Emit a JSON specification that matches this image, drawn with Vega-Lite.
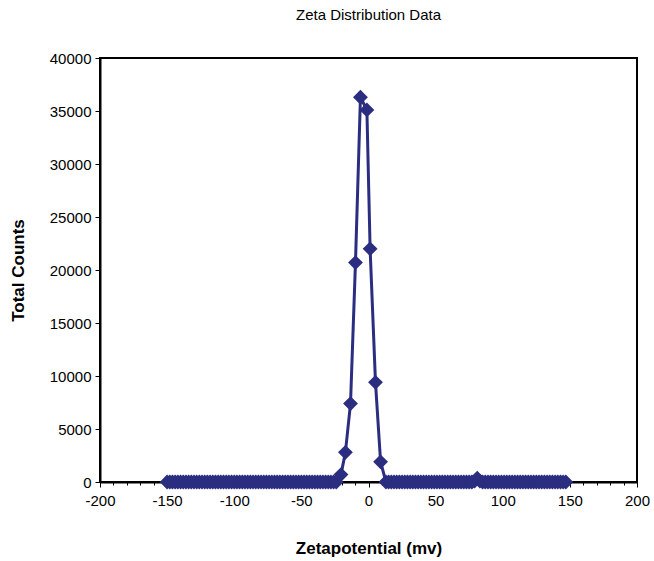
{
  "$schema": "https://vega.github.io/schema/vega-lite/v6.json",
  "autosize": {"type": "none"},
  "width": 537,
  "height": 424,
  "padding": {"left": 100, "top": 58, "right": 17, "bottom": 79},
  "background": "white",
  "title": {"text": "Zeta Distribution Data", "font": "Liberation Sans", "fontSize": 15, "fontWeight": "normal", "color": "#000000", "offset": 28, "anchor": "middle"},
  "config": {
    "view": {"stroke": "#000000", "strokeWidth": 2},
    "axis": {"grid": false, "domainColor": "#000000", "domainWidth": 2, "tickColor": "#000000", "labelFont": "Liberation Sans", "labelFontSize": 15, "labelColor": "#000000", "titleFont": "Liberation Sans", "titleFontSize": 17, "titleFontWeight": "bold", "titleColor": "#000000"}
  },
  "data": {"values": [
    {"x": -150, "y": 0}, {"x": -148, "y": 0}, {"x": -146, "y": 0}, {"x": -144, "y": 0}, {"x": -142, "y": 0}, {"x": -140, "y": 0}, {"x": -138, "y": 0}, {"x": -136, "y": 0}, {"x": -134, "y": 0}, {"x": -132, "y": 0},
    {"x": -130, "y": 0}, {"x": -128, "y": 0}, {"x": -126, "y": 0}, {"x": -124, "y": 0}, {"x": -122, "y": 0}, {"x": -120, "y": 0}, {"x": -118, "y": 0}, {"x": -116, "y": 0}, {"x": -114, "y": 0}, {"x": -112, "y": 0},
    {"x": -110, "y": 0}, {"x": -108, "y": 0}, {"x": -106, "y": 0}, {"x": -104, "y": 0}, {"x": -102, "y": 0}, {"x": -100, "y": 0}, {"x": -98, "y": 0}, {"x": -96, "y": 0}, {"x": -94, "y": 0}, {"x": -92, "y": 0},
    {"x": -90, "y": 0}, {"x": -88, "y": 0}, {"x": -86, "y": 0}, {"x": -84, "y": 0}, {"x": -82, "y": 0}, {"x": -80, "y": 0}, {"x": -78, "y": 0}, {"x": -76, "y": 0}, {"x": -74, "y": 0}, {"x": -72, "y": 0},
    {"x": -70, "y": 0}, {"x": -68, "y": 0}, {"x": -66, "y": 0}, {"x": -64, "y": 0}, {"x": -62, "y": 0}, {"x": -60, "y": 0}, {"x": -58, "y": 0}, {"x": -56, "y": 0}, {"x": -54, "y": 0}, {"x": -52, "y": 0},
    {"x": -50, "y": 0}, {"x": -48, "y": 0}, {"x": -46, "y": 0}, {"x": -44, "y": 0}, {"x": -42, "y": 0}, {"x": -40, "y": 0}, {"x": -38, "y": 0}, {"x": -36, "y": 0}, {"x": -34, "y": 0}, {"x": -32, "y": 0},
    {"x": -30, "y": 0}, {"x": -28, "y": 0}, {"x": -26, "y": 0}, {"x": -24, "y": 0},
    {"x": -20.5, "y": 700}, {"x": -17.2, "y": 2800}, {"x": -13.4, "y": 7400}, {"x": -9.7, "y": 20700}, {"x": -6, "y": 36300},
    {"x": -1.2, "y": 35100}, {"x": 1.2, "y": 22000}, {"x": 5.2, "y": 9400}, {"x": 9, "y": 1900},
    {"x": 13, "y": 0}, {"x": 15, "y": 0}, {"x": 17, "y": 0}, {"x": 19, "y": 0}, {"x": 21, "y": 0}, {"x": 23, "y": 0}, {"x": 25, "y": 0}, {"x": 27, "y": 0}, {"x": 29, "y": 0}, {"x": 31, "y": 0},
    {"x": 33, "y": 0}, {"x": 35, "y": 0}, {"x": 37, "y": 0}, {"x": 39, "y": 0}, {"x": 41, "y": 0}, {"x": 43, "y": 0}, {"x": 45, "y": 0}, {"x": 47, "y": 0}, {"x": 49, "y": 0}, {"x": 51, "y": 0},
    {"x": 53, "y": 0}, {"x": 55, "y": 0}, {"x": 57, "y": 0}, {"x": 59, "y": 0}, {"x": 61, "y": 0}, {"x": 63, "y": 0}, {"x": 65, "y": 0}, {"x": 67, "y": 0}, {"x": 69, "y": 0}, {"x": 71, "y": 0},
    {"x": 73, "y": 0}, {"x": 75, "y": 0}, {"x": 77, "y": 0}, {"x": 79, "y": 80}, {"x": 81, "y": 350}, {"x": 83, "y": 80}, {"x": 85, "y": 0}, {"x": 87, "y": 0}, {"x": 89, "y": 0}, {"x": 91, "y": 0},
    {"x": 93, "y": 0}, {"x": 95, "y": 0}, {"x": 97, "y": 0}, {"x": 99, "y": 0}, {"x": 101, "y": 0}, {"x": 103, "y": 0}, {"x": 105, "y": 0}, {"x": 107, "y": 0}, {"x": 109, "y": 0}, {"x": 111, "y": 0},
    {"x": 113, "y": 0}, {"x": 115, "y": 0}, {"x": 117, "y": 0}, {"x": 119, "y": 0}, {"x": 121, "y": 0}, {"x": 123, "y": 0}, {"x": 125, "y": 0}, {"x": 127, "y": 0}, {"x": 129, "y": 0}, {"x": 131, "y": 0},
    {"x": 133, "y": 0}, {"x": 135, "y": 0}, {"x": 137, "y": 0}, {"x": 139, "y": 0}, {"x": 141, "y": 0}, {"x": 143, "y": 0}, {"x": 145, "y": 0}, {"x": 147, "y": 0}
  ]},
  "encoding": {
    "x": {"field": "x", "type": "quantitative", "scale": {"domain": [-200, 200], "nice": false, "zero": false},
      "axis": {"title": "Zetapotential (mv)", "values": [-200,-190,-180,-170,-160,-150,-140,-130,-120,-110,-100,-90,-80,-70,-60,-50,-40,-30,-20,-10,0,10,20,30,40,50,60,70,80,90,100,110,120,130,140,150,160,170,180,190,200],
        "labelExpr": "datum.value % 50 === 0 ? (datum.value < 0 ? '-' + format(-datum.value, 'd') : format(datum.value, 'd')) : ''",
        "tickSize": {"condition": {"test": "datum.value % 50 === 0", "value": 5}, "value": 3},
        "tickWidth": 1, "labelPadding": 6, "labelFlush": false, "labelOverlap": false,
        "titleX": 268.5, "titleY": 66, "titleBaseline": "middle", "titleAnchor": "middle"}},
    "y": {"field": "y", "type": "quantitative", "scale": {"domain": [0, 40000], "nice": false},
      "axis": {"title": "Total Counts", "values": [0,5000,10000,15000,20000,25000,30000,35000,40000], "format": "d", "tickSize": 5, "tickWidth": 1, "labelPadding": 4,
        "titleX": -82, "titleY": 212, "titleBaseline": "middle", "titleAngle": -90, "titleAnchor": "middle"}}
  },
  "layer": [
    {"mark": {"type": "line", "color": "#2b2d80", "strokeWidth": 3}},
    {"mark": {"type": "point", "shape": "diamond", "filled": true, "size": 220, "color": "#2b2d80", "opacity": 1}}
  ]
}
